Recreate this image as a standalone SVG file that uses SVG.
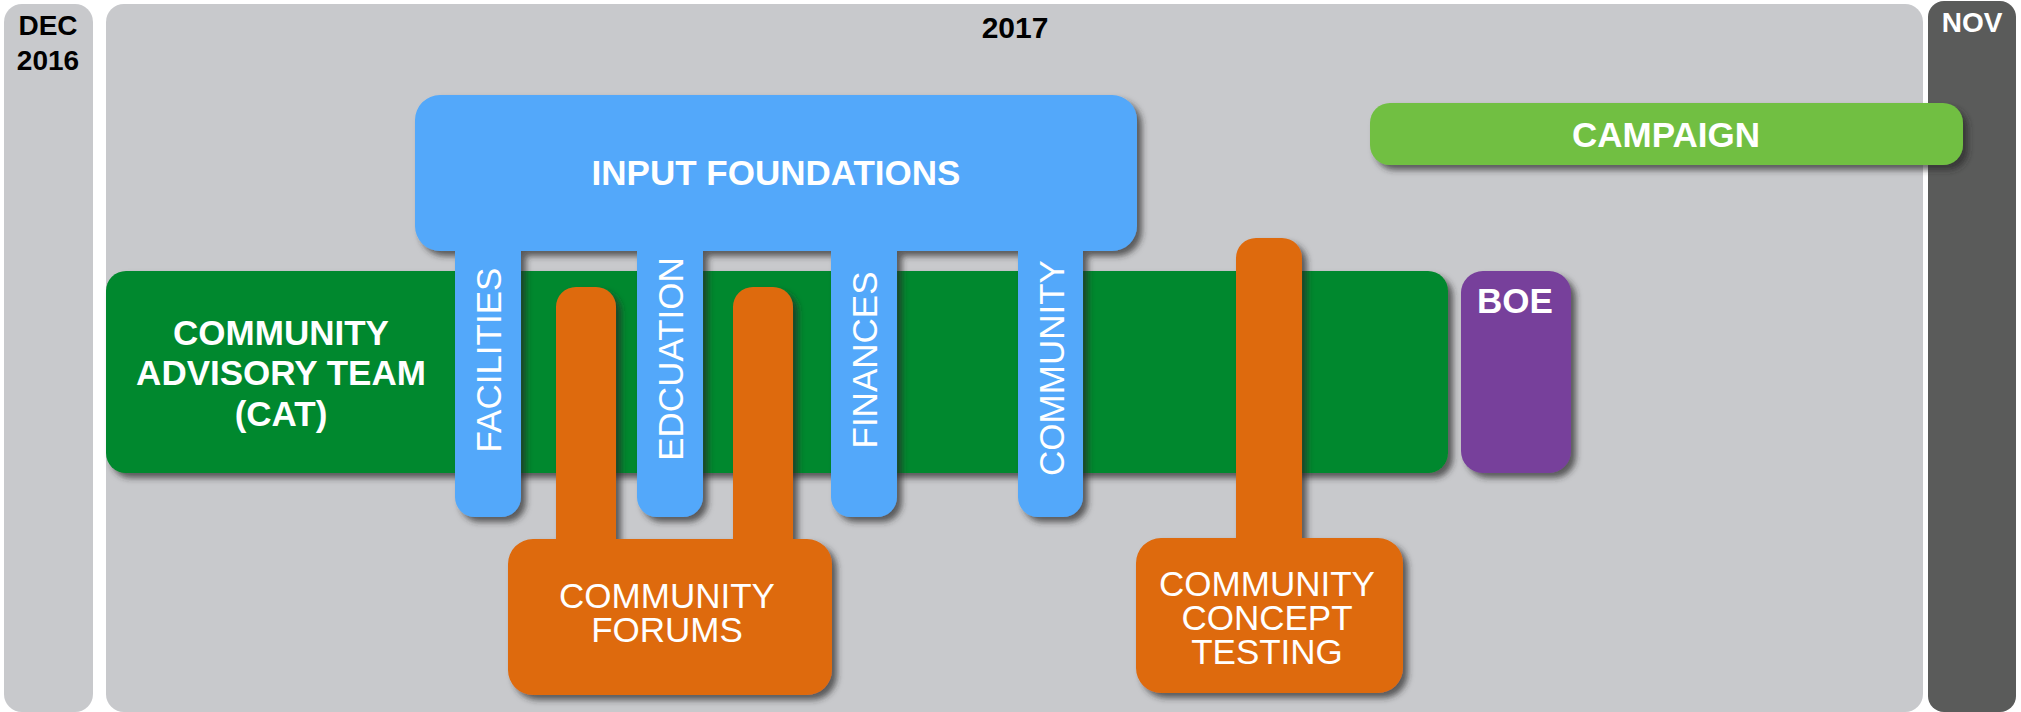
<svg xmlns="http://www.w3.org/2000/svg" width="2021" height="712" viewBox="0 0 2021 712">
  <defs>
    <filter id="sh" x="-10%" y="-10%" width="130%" height="130%">
      <feDropShadow dx="5" dy="5" stdDeviation="3" flood-color="#2a2a2a" flood-opacity="0.7"/>
    </filter>
  </defs>
  <style>
    text { font-family: "Liberation Sans", Arial, Helvetica, sans-serif; }
    .hdr { font-weight: bold; fill: #000; font-size: 28px; text-anchor: middle; }
    .bw { font-weight: bold; fill: #fff; font-size: 35px; text-anchor: middle; }
    .rw { fill: #fff; font-size: 35px; text-anchor: middle; }
    .panel { fill: #c8c9cc; }
    .blue { fill: #52a8fa; filter: url(#sh); }
    .orange { fill: #de6b11; filter: url(#sh); }
  </style>
  <rect width="2021" height="712" fill="#ffffff"/>

  <g id="dec2016">
    <rect class="panel" x="4" y="4" width="89" height="708" rx="18"/>
    <text class="hdr" x="48" y="35">DEC</text>
    <text class="hdr" x="48" y="70">2016</text>
  </g>

  <g id="y2017">
    <rect class="panel" x="106" y="4" width="1817" height="708" rx="18"/>
    <text class="hdr" x="1015" y="38" style="font-size:30px">2017</text>
  </g>

  <g id="nov">
    <rect x="1928" y="1" width="88" height="711" rx="16" fill="#5a5b5a"/>
    <text class="hdr" x="1972" y="32" style="fill:#fff">NOV</text>
  </g>

  <g id="connectors"></g>

  <g id="cat">
    <rect x="106" y="271" width="1342" height="202" rx="20" fill="#00882d" filter="url(#sh)"/>
    <text class="bw" x="281" y="345">COMMUNITY</text>
    <text class="bw" x="281" y="385">ADVISORY TEAM</text>
    <text class="bw" x="281" y="426">(CAT)</text>
  </g>

  <g id="boe">
    <rect x="1461" y="271" width="110" height="202" rx="22" fill="#773f9b" filter="url(#sh)"/>
    <text class="bw" x="1515" y="313">BOE</text>
  </g>

  <g id="campaign">
    <rect x="1370" y="103" width="593" height="62" rx="20" fill="#71bf43" filter="url(#sh)"/>
    <text class="bw" x="1666" y="147">CAMPAIGN</text>
  </g>

  <g id="input-foundations">
    <path class="blue" d="M 440,95 H 1112 A25,25 0 0 1 1137,120 V 226 A25,25 0 0 1 1112,251 H 1083 V 497 A20,20 0 0 1 1063,517 H 1038 A20,20 0 0 1 1018,497 V 251 H 897 V 497 A20,20 0 0 1 877,517 H 851 A20,20 0 0 1 831,497 V 251 H 703 V 497 A20,20 0 0 1 683,517 H 657 A20,20 0 0 1 637,497 V 251 H 521 V 497 A20,20 0 0 1 501,517 H 475 A20,20 0 0 1 455,497 V 251 H 440 A25,25 0 0 1 415,226 V 120 A25,25 0 0 1 440,95 Z"/>
    <text class="bw" x="776" y="185">INPUT FOUNDATIONS</text>
    <text class="rw" transform="translate(501,360) rotate(-90)">FACILITIES</text>
    <text class="rw" transform="translate(683,359) rotate(-90)">EDCUATION</text>
    <text class="rw" transform="translate(877,360) rotate(-90)">FINANCES</text>
    <text class="rw" transform="translate(1064,368) rotate(-90)">COMMUNITY</text>
  </g>

  <g id="community-forums">
    <path class="orange" d="M 576,287 H 596 A20,20 0 0 1 616,307 V 539 H 733 V 307 A20,20 0 0 1 753,287 H 773 A20,20 0 0 1 793,307 V 539 H 807 A25,25 0 0 1 832,564 V 670 A25,25 0 0 1 807,695 H 533 A25,25 0 0 1 508,670 V 564 A25,25 0 0 1 533,539 H 556 V 307 A20,20 0 0 1 576,287 Z"/>
    <text class="rw" x="667" y="608">COMMUNITY</text>
    <text class="rw" x="667" y="642">FORUMS</text>
  </g>

  <g id="community-concept-testing">
    <path class="orange" d="M 1256,238 H 1282 A20,20 0 0 1 1302,258 V 538 H 1378 A25,25 0 0 1 1403,563 V 668 A25,25 0 0 1 1378,693 H 1161 A25,25 0 0 1 1136,668 V 563 A25,25 0 0 1 1161,538 H 1236 V 258 A20,20 0 0 1 1256,238 Z"/>
    <text class="rw" x="1267" y="596">COMMUNITY</text>
    <text class="rw" x="1267" y="630">CONCEPT</text>
    <text class="rw" x="1267" y="664">TESTING</text>
  </g>
</svg>
